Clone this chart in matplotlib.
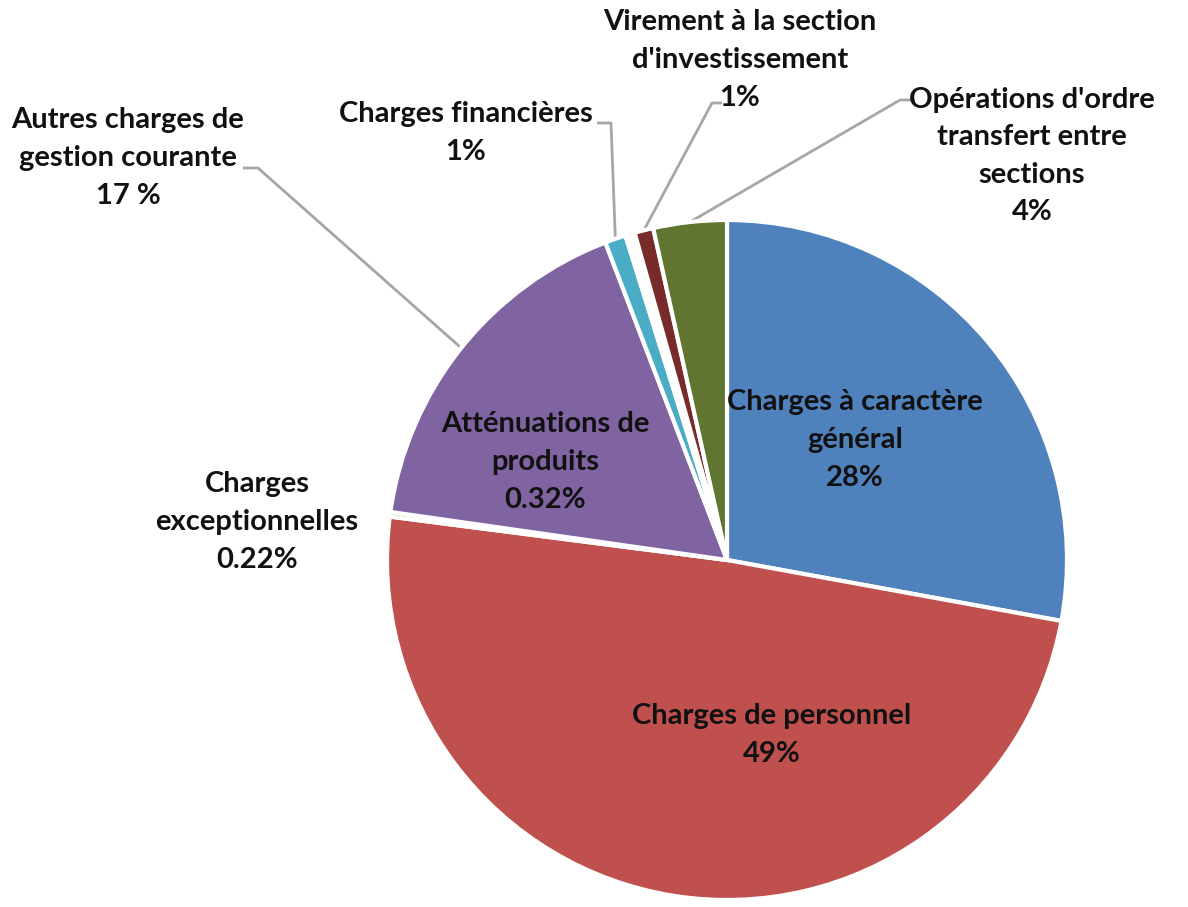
import numpy as np
import matplotlib.pyplot as plt

# Parts du budget de fonctionnement, dans l'ordre horaire depuis midi
labels = ["Charges à caractère\ngénéral\n28%",
          "Charges de personnel\n49%",
          "Charges\nexceptionnelles\n0.22%",
          "Atténuations de\nproduits\n0.32%",
          "Charges financières\n1%",
          "",
          "Virement à la section\nd'investissement\n1%",
          "Opérations d'ordre\ntransfert entre\nsections\n4%"]
values = [28, 49.4, 0.22, 17, 1, 0.45, 0.9, 3.5]
colors = ["#4F81BD", "#C0504D", "#9BBB59", "#8064A2", "#4BACC6",
          "#FFFFFF", "#772C2A", "#5F7530"]
autres_label = "Autres charges de\ngestion courante\n17 %"

plt.rcParams['font.family'] = ['Lato', 'DejaVu Sans']

fig = plt.figure(figsize=(11.88, 9.07), dpi=100)
ax = fig.add_axes([0, 0, 1, 1])

wedges, _ = ax.pie(values, colors=colors, startangle=90, counterclock=False,
                   radius=1.0, center=(0, 0),
                   wedgeprops=dict(edgecolor="white", linewidth=3))

ax.set_xlim(-727 / 340, (1188 - 727) / 340)
ax.set_ylim(-(907 - 560) / 340, 560 / 340)
ax.set_aspect('equal', adjustable='box')
ax.axis('off')

fs = 21
tkw = dict(ha="center", va="center", fontsize=fs, fontweight="bold",
           color="#111111", linespacing=1.55)


def px(x, y):
    return (x - 727) / 340, (560 - y) / 340


# etiquettes dans les parts
ax.text(*px(855, 440), labels[0], **tkw)
ax.text(*px(772, 735), labels[1], **tkw)
ax.text(*px(545, 462), labels[3], **tkw)

# etiquettes exterieures
ax.text(*px(257, 522), labels[2], **tkw)
ax.text(*px(128, 158), autres_label, **tkw)
ax.text(*px(466, 133), labels[4], **tkw)
ax.text(*px(740, 60), labels[6], **tkw)
ax.text(*px(1032, 156), labels[7], **tkw)


def mid_point(w, r=1.0):
    a = np.deg2rad((w.theta1 + w.theta2) / 2)
    return r * np.cos(a), r * np.sin(a)


def leader(start, elbow, w):
    x, y = mid_point(w)
    ax.plot([start[0], elbow[0], x], [start[1], elbow[1], y],
            color="#A6A6A6", lw=2, solid_capstyle="butt", zorder=0)


leader(px(243, 168), px(258, 168), wedges[3])
leader(px(597, 123), px(611, 123), wedges[4])
leader(px(722, 103), px(712, 103), wedges[6])
leader(px(915, 100), px(900, 100), wedges[7])

fig.savefig("out.png", dpi=100, facecolor="white")
